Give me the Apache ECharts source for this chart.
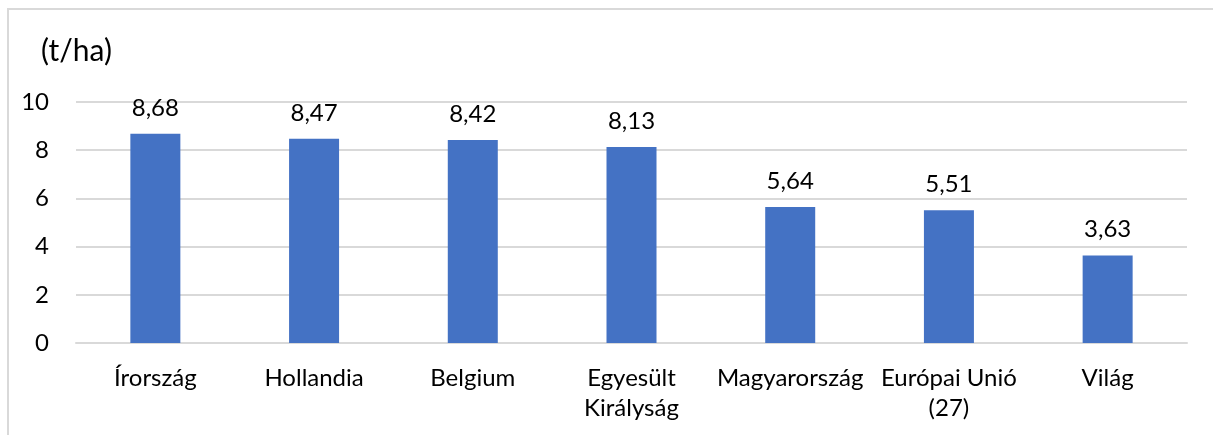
<!DOCTYPE html>
<html>
<head>
<meta charset="utf-8">
<script src="https://cdn.jsdelivr.net/npm/echarts@6/dist/echarts.min.js"></script>
<style>
  html, body { margin: 0; padding: 0; background: #fff; }
  #wrap { position: relative; width: 1213px; height: 435px; overflow: hidden; }
  #frame { position: absolute; left: 7px; top: 8px; width: 1230px; height: 460px; border: 2px solid #d9d9d9; box-sizing: border-box; }
  #chart { position: absolute; left: 0; top: 0; width: 1213px; height: 435px; }
</style>
</head>
<body>
<div id="wrap">
  <div id="frame"></div>
  <div id="chart"></div>
</div>
<script>
  var countries = ['Írország', 'Hollandia', 'Belgium', 'Egyesült\nKirályság', 'Magyarország', 'Európai Unió\n(27)', 'Világ']
  var yields = [8.68, 8.47, 8.42, 8.13, 5.64, 5.51, 3.63]
  var yTicks = [0, 2, 4, 6, 8, 10]

  var font = 'Lato, Open Sans, sans-serif'
  var chart = echarts.init(document.getElementById('chart'))
  chart.setOption({
    animation: false,
    title: {
      text: '(t/ha)',
      left: 36,
      top: 31,
      textStyle: { fontFamily: font, fontSize: 30, fontWeight: 'normal', color: '#000' }
    },
    grid: { left: 76, right: 26, top: 102, bottom: 92 },
    xAxis: {
      type: 'category',
      data: countries,
      axisLine: { lineStyle: { color: '#d9d9d9', width: 2 } },
      axisTick: { show: false },
      axisLabel: {
        interval: 0,
        margin: 20,
        lineHeight: 30,
        fontFamily: font,
        fontSize: 24,
        color: '#000'
      }
    },
    yAxis: {
      type: 'value',
      min: yTicks[0],
      max: yTicks[yTicks.length - 1],
      interval: 2,
      axisLine: { show: false },
      axisTick: { show: false },
      splitLine: { lineStyle: { color: '#d9d9d9', width: 2 } },
      axisLabel: { margin: 27, fontFamily: font, fontSize: 24, color: '#000' }
    },
    series: [{
      type: 'bar',
      data: yields,
      barWidth: 50,
      itemStyle: { color: '#4472c4' },
      label: {
        show: true,
        position: 'top',
        distance: 14,
        fontFamily: font,
        fontSize: 24,
        color: '#000',
        formatter: function (p) { return p.value.toFixed(2).replace('.', ',') }
      }
    }]
  })
</script>
</body>
</html>
